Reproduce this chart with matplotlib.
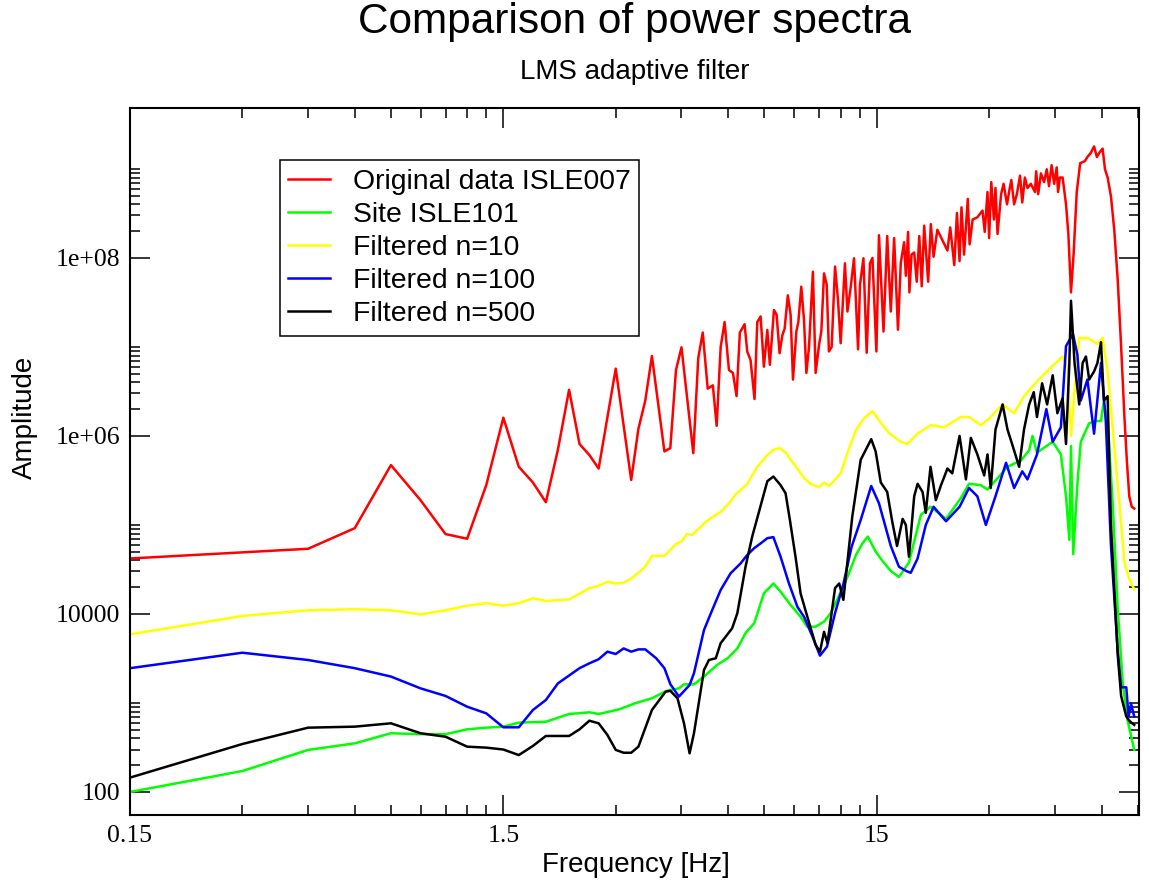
'''
Power spectra of the ISLE007 record before and after LMS adaptive
filtering against the ISLE101 reference site.
'''

from matplotlib import pyplot as plt
from matplotlib.ticker import NullFormatter

# Frequency [Hz] / amplitude pairs for each spectrum
orig_freq = [0.15, 0.45, 0.60, 0.75, 0.90, 1.05, 1.20, 1.35, 1.50, 1.65,
             1.80, 1.95, 2.10, 2.25, 2.40, 2.55, 2.70, 3.00, 3.30, 3.45,
             3.60, 3.75, 4.05, 4.20, 4.35, 4.50, 4.84, 4.99, 5.13, 5.29,
             5.46, 5.59, 5.73, 5.87, 6.03, 6.18, 6.32, 6.45, 6.64, 6.75,
             6.89, 7.06, 7.18, 7.33, 7.48, 7.64, 7.76, 7.96, 8.09, 8.24,
             8.38, 8.50, 8.67, 8.82, 8.95, 9.14, 9.25, 9.42, 9.58, 9.72,
             9.88, 10.12, 10.29, 10.51, 10.66, 10.84, 11.02, 11.17, 11.36, 11.60,
             11.81, 12.01, 12.33, 12.52, 12.78, 13.04, 13.37, 13.53, 13.82, 14.10,
             14.39, 14.61, 14.97, 15.21, 15.64, 16.0, 16.36, 16.7, 17.1, 17.4,
             17.76, 17.95, 18.2, 18.35, 18.59, 18.9, 19.2, 19.5, 19.8, 20.1,
             20.6, 20.94, 21.3, 21.8, 22.5, 23.2, 23.6, 24.2, 24.6, 25.0,
             25.3, 25.7, 26.3, 26.6, 27.1, 27.9, 28.8, 29.2, 29.7, 30.0,
             30.4, 30.9, 31.2, 31.6, 32.3, 32.8, 33.5, 34.0, 34.4, 35.0,
             35.6, 36.3, 36.8, 37.4, 38.0, 38.8, 39.8, 40.1, 40.6, 41.3,
             42.1, 42.8, 43.4, 44.1, 44.8, 45.5, 45.9, 46.4, 47.2, 48.2,
             48.9, 49.7, 50.5, 51.5, 52.6, 54.1, 55.0, 56.2, 57.3, 58.3,
             59.2, 60.4, 61.3, 62.3, 63.6, 64.9, 66.3, 67.7, 69.1, 70.2,
             71.2, 72.3, 73.4]
orig_amp = [4.2e4, 5.4e4, 9.2e4, 4.7e5, 1.9e5, 7.9e4, 7.0e4, 2.8e5, 1.6e6, 4.5e5,
            3.0e5, 1.8e5, 7.0e5, 3.3e6, 8.1e5, 6.1e5, 4.3e5, 5.7e6, 3.2e5, 1.2e6,
            2.5e6, 7.9e6, 6.7e5, 7.3e5, 5.5e6, 9.9e6, 6.4e5, 7.5e6, 1.45e7, 3.4e6,
            3.7e6, 1.3e6, 1.0e7, 1.9e7, 5.5e6, 5.1e6, 2.8e6, 1.45e7, 1.8e7, 8.9e6,
            7.1e6, 2.6e6, 1.9e7, 2.2e7, 6.0e6, 1.55e7, 6.3e6, 2.6e7, 2.3e7, 8.5e6,
            1.35e7, 1.6e7, 3.8e7, 2.3e7, 4.3e6, 1.5e7, 1.9e7, 4.75e7, 2.0e7, 5.1e6,
            1.0e7, 7.0e7, 5.1e6, 1.05e7, 1.5e7, 6.7e7, 5.0e7, 8.9e6, 1.0e7, 8.0e7,
            3.4e7, 1.1e7, 8.7e7, 2.5e7, 4.75e7, 9.9e7, 9.4e6, 5.0e7, 9.9e7, 8.6e6,
            8.7e7, 1.0e8, 8.9e6, 1.8e8, 1.49e7, 1.76e8, 2.5e7, 1.67e8, 1.56e7, 8.8e7,
            1.5e8, 6.3e7, 1.96e8, 4.1e7, 1.09e8, 1.15e8, 5.4e7, 1.76e8, 4.8e7, 2.3e8,
            5.4e7, 2.4e8, 1.03e8, 2.07e8, 1.58e8, 1.21e8, 2.2e8, 8.3e7, 3.2e8, 9.2e7,
            3.7e8, 1.09e8, 4.6e8, 1.42e8, 2.7e8, 2.86e8, 3.4e8, 1.96e8, 5.5e8, 1.67e8,
            7.1e8, 2.7e8, 6.1e8, 1.86e8, 5.2e8, 6.8e8, 4.0e8, 5.8e8, 7.5e8, 4.0e8,
            5.2e8, 8.4e8, 4.2e8, 8.0e8, 6.1e8, 6.8e8, 5.5e8, 9.4e8, 5.2e8, 8.9e8,
            7.1e8, 9.9e8, 6.4e8, 1.1e9, 6.8e8, 1.04e9, 5.5e8, 8.0e8, 8.0e8, 4.0e8,
            1.86e8, 4.1e7, 1.09e8, 5.5e8, 1.16e9, 1.22e9, 1.36e9, 1.52e9, 1.79e9, 1.36e9,
            1.52e9, 1.69e9, 9.9e8, 8.0e8, 4.9e8, 2.07e8, 5.7e7, 1.02e7, 1.63e6, 5.0e5,
            2.1e5, 1.6e5, 1.53e5]

site_freq = [0.15, 0.30, 0.45, 0.60, 0.75, 0.90, 1.05, 1.20, 1.35, 1.50,
             1.65, 1.95, 2.25, 2.55, 2.70, 3.07, 3.38, 3.75, 4.11, 4.43,
             4.57, 4.86, 5.17, 5.6, 5.98, 6.35, 6.68, 7.05, 7.48, 7.93,
             8.29, 8.82, 9.38, 9.77, 10.29, 10.84, 11.29, 11.75, 12.52, 13.2,
             13.73, 14.2, 14.91, 15.57, 16.36, 17.2, 18.3, 19.7, 20.9, 23.0,
             25.2, 26.5, 28.5, 29.7, 31.4, 33.6, 36.5, 38.4, 39.2, 40.3,
             44.4, 46.7, 48.2, 49.2, 49.7, 50.4, 51.7, 52.8, 55.6, 58.0,
             59.8, 60.8, 62.3, 64.3, 66.3, 68.4, 70.5, 73.4]
site_amp = [100, 172, 297, 352, 457, 446, 446, 506, 528, 542,
            601, 615, 752, 785, 752, 850, 993, 1.13e3, 1.37e3, 1.46e3,
            1.62e3, 1.62e3, 1.98e3, 2.67e3, 3.18e3, 4.1e3, 6.1e3, 7.9e3, 1.7e4, 2.2e4,
            1.78e4, 1.26e4, 9.3e3, 7.2e3, 7.2e3, 8.2e3, 1.02e4, 1.44e4, 2.6e4, 4.6e4,
            6.2e4, 7.4e4, 5.0e4, 3.9e4, 3.04e4, 2.6e4, 3.8e4, 1.3e5, 1.6e5, 1.17e5,
            2.0e5, 2.9e5, 2.8e5, 2.5e5, 3.25e5, 4.5e5, 5.3e5, 6.9e5, 1.0e6, 6.5e5,
            8.6e5, 6.2e5, 2.1e5, 6.8e4, 7.7e5, 4.7e4, 2.9e5, 8.6e5, 1.39e6, 1.47e6,
            1.47e6, 2.4e6, 1.47e6, 1.7e5, 1.16e4, 1.66e3, 632, 298]

n10_freq = [0.15, 0.30, 0.45, 0.60, 0.75, 0.90, 1.05, 1.20, 1.35, 1.50,
            1.65, 1.80, 1.95, 2.25, 2.55, 2.70, 2.85, 3.00, 3.15, 3.30,
            3.60, 3.75, 4.05, 4.35, 4.50, 4.65, 4.80, 4.96, 5.33, 5.73,
            6.03, 6.28, 6.75, 7.18, 7.64, 7.93, 8.26, 8.55, 8.82, 9.2,
            9.58, 9.98, 10.51, 10.84, 11.17, 11.5, 12.01, 12.52, 13.2, 13.87,
            14.61, 15.21, 16.2, 17.0, 17.4, 18.1, 19.3, 20.9, 22.7, 25.2,
            26.5, 28.5, 30.3, 32.6, 35.0, 37.2, 40.3, 43.4, 47.2, 48.7,
            49.7, 50.9, 52.3, 55.0, 58.5, 60.4, 62.3, 64.9, 67.0, 69.1,
            71.2, 73.4]
n10_amp = [5.9e3, 9.5e3, 1.1e4, 1.13e4, 1.1e4, 9.9e3, 1.1e4, 1.24e4, 1.32e4, 1.24e4,
           1.32e4, 1.5e4, 1.4e4, 1.46e4, 1.95e4, 2.07e4, 2.3e4, 2.2e4, 2.25e4, 2.5e4,
           3.4e4, 4.5e4, 4.5e4, 6.1e4, 6.5e4, 7.9e4, 7.7e4, 8.8e4, 1.16e5, 1.4e5,
           1.75e5, 2.2e5, 2.9e5, 4.5e5, 6.1e5, 7.0e5, 7.3e5, 6.5e5, 5.4e5, 4.3e5,
           3.35e5, 2.9e5, 2.65e5, 3.0e5, 2.75e5, 3.1e5, 3.8e5, 6.4e5, 1.17e6, 1.58e6,
           1.9e6, 1.5e6, 1.07e6, 9.2e5, 8.6e5, 8.1e5, 1.06e6, 1.32e6, 1.25e6, 1.63e6,
           1.63e6, 1.32e6, 1.63e6, 2.26e6, 1.8e6, 2.8e6, 4.1e6, 5.6e6, 7.8e6, 5.9e6,
           1.0e6, 3.5e6, 1.26e7, 1.26e7, 1.08e7, 1.26e7, 5.3e6, 7.7e5, 1.7e5, 3.8e4,
           2.45e4, 1.9e4]

n100_freq = [0.15, 0.30, 0.45, 0.60, 0.75, 0.90, 1.05, 1.20, 1.35, 1.50,
             1.65, 1.80, 1.95, 2.10, 2.40, 2.55, 2.70, 2.85, 3.00, 3.15,
             3.30, 3.45, 3.60, 3.85, 4.05, 4.20, 4.43, 4.73, 4.86, 5.17,
             5.44, 5.73, 6.09, 6.48, 6.75, 7.05, 7.33, 7.64, 7.93, 8.29,
             8.73, 9.2, 9.58, 10.09, 10.57, 11.04, 11.6, 12.22, 12.85, 13.59,
             14.5, 15.21, 16.36, 17.2, 17.95, 18.5, 19.3, 20.3, 21.3, 23.0,
             25.0, 26.5, 27.9, 29.4, 31.2, 33.3, 35.0, 36.8, 38.0, 40.3,
             42.7, 44.4, 46.7, 48.2, 50.3, 51.7, 52.8, 55.0, 57.3, 59.8,
             61.6, 63.6, 66.3, 67.7, 69.9, 70.9, 72.0, 73.4]
n100_amp = [2.46e3, 3.67e3, 3.04e3, 2.46e3, 1.98e3, 1.46e3, 1.2e3, 908, 765, 533,
            533, 834, 1.08e3, 1.66e3, 2.46e3, 2.79e3, 3.1e3, 3.77e3, 3.55e3, 4.1e3,
            3.77e3, 4.0e3, 4.0e3, 3.18e3, 2.46e3, 1.63e3, 1.18e3, 1.59e3, 2.16e3, 6.6e3,
            1.11e4, 1.86e4, 2.86e4, 3.7e4, 4.6e4, 5.5e4, 6.2e4, 7.1e4, 7.3e4, 4.4e4,
            2.2e4, 1.2e4, 9.3e3, 5.6e3, 3.4e3, 4.3e3, 1.02e4, 2.2e4, 5.7e4, 1.14e5,
            2.74e5, 1.75e5, 5.8e4, 3.4e4, 3.05e4, 2.9e4, 4.2e4, 1.0e5, 1.6e5, 1.1e5,
            1.6e5, 2.6e5, 2.1e5, 1.0e5, 2.1e5, 5.0e5, 2.6e5, 4.0e5, 3.25e5, 6.2e5,
            2.0e6, 8.6e5, 1.25e6, 1.02e7, 1.4e7, 8.2e6, 2.5e6, 4.3e6, 1.06e6, 6.6e6,
            1.47e6, 5.8e4, 3.9e3, 1.5e3, 1.5e3, 705, 975, 705]

n500_freq = [0.15, 0.30, 0.45, 0.60, 0.75, 0.90, 1.05, 1.20, 1.35, 1.50,
             1.65, 1.80, 1.95, 2.25, 2.40, 2.55, 2.70, 2.85, 3.00, 3.15,
             3.30, 3.45, 3.75, 3.90, 4.08, 4.20, 4.39, 4.57, 4.73, 4.86,
             5.17, 5.33, 5.56, 5.73, 6.15, 6.35, 6.68, 6.96, 7.22, 7.64,
             7.93, 8.29, 8.55, 8.78, 9.09, 9.38, 9.89, 10.29, 10.57, 10.84,
             11.07, 11.6, 11.9, 12.21, 12.9, 13.59, 14.5, 14.9, 15.38, 16.0,
             16.5, 17.0, 17.6, 17.95, 18.3, 18.9, 19.3, 19.9, 20.3, 20.9,
             21.6, 22.3, 23.2, 23.9, 25.0, 26.0, 26.8, 27.9, 29.1, 29.7,
             30.3, 31.2, 32.6, 33.6, 34.7, 36.1, 37.2, 38.4, 39.5, 40.3,
             41.6, 42.9, 44.4, 45.7, 47.2, 48.2, 49.2, 49.7, 50.8, 52.3,
             53.4, 54.5, 55.6, 57.3, 58.5, 59.8, 60.9, 62.3, 63.6, 66.3,
             67.7, 69.9, 71.2, 73.4]
n500_amp = [145, 346, 528, 542, 591, 457, 418, 323, 315, 300,
            260, 329, 426, 426, 506, 632, 591, 437, 297, 276,
            276, 323, 834, 1.04e3, 1.34e3, 1.37e3, 1.13e3, 591, 272, 457,
            2.35e3, 3.04e3, 3.18e3, 4.7e3, 6.9e3, 1.02e4, 3.4e4, 7.4e4, 1.3e5, 3.1e5,
            3.5e5, 2.8e5, 2.27e5, 1.14e5, 4.4e4, 1.7e4, 7.9e3, 4.5e3, 3.77e3, 6.3e3,
            4.7e3, 1.95e4, 2.2e4, 1.44e4, 1.24e5, 5.4e5, 9.2e5, 6.7e5, 3.0e5, 2.35e5,
            1.1e5, 5.8e4, 1.17e5, 1.0e5, 4.4e4, 2.1e5, 2.9e5, 2.35e5, 1.37e5, 4.5e5,
            1.9e5, 2.8e5, 4.3e5, 3.8e5, 1.0e6, 3.25e5, 9.5e5, 6.2e5, 3.6e5, 6.2e5,
            2.6e5, 1.18e6, 2.26e6, 1.18e6, 7.7e5, 4.5e5, 1.18e6, 2.26e6, 3.1e6, 1.63e6,
            3.9e6, 2.26e6, 4.8e6, 1.8e6, 2.65e6, 8.1e5, 6.6e6, 3.3e7, 6.6e6, 2.26e6,
            6.6e6, 7.8e6, 4.3e6, 5.3e6, 6.6e6, 1.13e7, 2.5e6, 2.8e6, 1.0e5, 3.5e3,
            1.2e3, 705, 632, 567]

x_major = [0.15, 1.5, 15]
x_labels = ['0.15', '1.5', '15']
y_major = [1e2, 1e4, 1e6, 1e8]
y_labels = ['100', '10000', '1e+06', '1e+08']

SANS = 'Liberation Sans'
SERIF = 'Liberation Serif'
LW = 1.8

fig = plt.figure(figsize=(11.49, 8.84), dpi=100)
ax = fig.add_axes([0.1131, 0.0781, 0.8782, 0.7998])

ax.plot(orig_freq, orig_amp, color='#ff0000', lw=LW, label='Original data ISLE007')
ax.plot(site_freq, site_amp, color='#00ff00', lw=LW, label='Site ISLE101')
ax.plot(n10_freq, n10_amp, color='#ffff00', lw=LW, label='Filtered n=10')
ax.plot(n100_freq, n100_amp, color='#0000ff', lw=LW, label='Filtered n=100')
ax.plot(n500_freq, n500_amp, color='#000000', lw=LW, label='Filtered n=500')

ax.set_xscale('log')
ax.set_yscale('log')

# major ticks every decade on x, every second decade on y;
# minor ticks at 2..9 (x) and 2..10 (y) times each major tick
ax.set_xticks(x_major)
ax.set_xticklabels(x_labels)
ax.set_xticks([m * k for m in x_major for k in range(2, 10)], minor=True)
ax.set_yticks(y_major)
ax.set_yticklabels(y_labels)
ax.set_yticks([m * k for m in y_major for k in range(2, 11)], minor=True)
ax.xaxis.set_minor_formatter(NullFormatter())
ax.yaxis.set_minor_formatter(NullFormatter())
ax.set_xlim(0.15, 75.6)
ax.set_ylim(55.2, 4.84e9)

ax.tick_params(which='both', direction='in', top=True, right=True, width=1.1)
ax.tick_params(which='major', length=14.4, labelsize=18.5, pad=7)
ax.tick_params(which='minor', length=7.2)
for lab in ax.get_xticklabels() + ax.get_yticklabels():
    lab.set_fontfamily(SERIF)
for sp in ax.spines.values():
    sp.set_linewidth(1.5)

leg = ax.legend(loc='upper left', bbox_to_anchor=(0.1487, 0.926),
                borderaxespad=0, fancybox=False, framealpha=1,
                edgecolor='black', handlelength=1.45, handletextpad=0.82,
                labelspacing=0.25, borderpad=0.3,
                prop={'family': SANS, 'size': 20.4})
leg.get_frame().set_linewidth(1.1)

fig.text(0.5522, 0.975, 'Comparison of power spectra', ha='center', va='center',
         family=SANS, fontsize=30.5)
fig.text(0.5522, 0.9186, 'LMS adaptive filter', ha='center', va='center',
         family=SANS, fontsize=20)
fig.text(0.5531, 0.021, 'Frequency [Hz]', ha='center', va='center',
         family=SANS, fontsize=20)
fig.text(0.022, 0.528, 'Amplitude', ha='center', va='center', rotation=90,
         family=SANS, fontsize=20)

plt.savefig('out.png', dpi=100)
